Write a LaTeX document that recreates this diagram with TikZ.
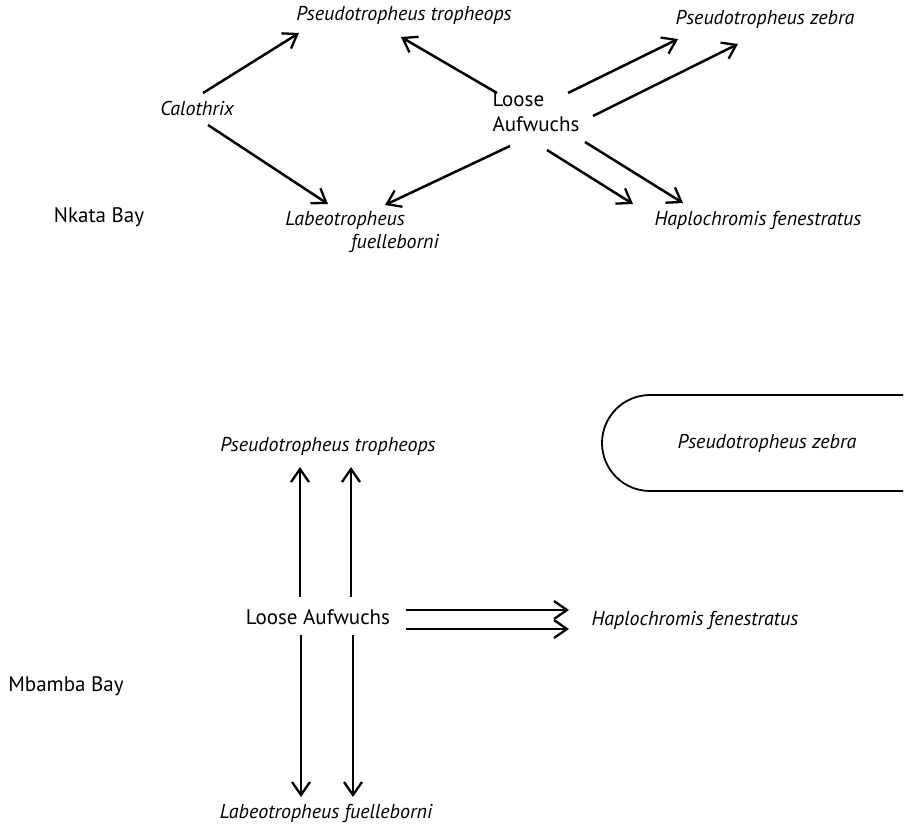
\documentclass[tikz,border=0pt]{standalone}
\usepackage{fontspec}
\setmainfont{PT Sans}
\usetikzlibrary{arrows.meta}
\tikzset{
  lbl/.style={inner sep=0pt, font=\fontsize{21}{25}\selectfont},
  sp/.style={lbl, font=\fontsize{20}{25}\selectfont\itshape},
  arr/.style={line width=2.5pt, -{Straight Barb[length=13pt,width=18pt,line width=2.3pt]}},
  frame/.style={line width=1.8pt}
}
\begin{document}
\begin{tikzpicture}[x=1pt,y=-1pt]
\useasboundingbox (0,0) rectangle (907,828);
% ---------- Nkata Bay ----------
\node[sp] (trop) at (404,15) {Pseudotropheus tropheops};
\node[sp] (zebra) at (765,19) {Pseudotropheus zebra};
\node[sp] (calo) at (197,108) {Calothrix};
\node[lbl, align=left] (loose) at (536,112) {Loose\\Aufwuchs};
\node[lbl] (nkata) at (99,217) {Nkata Bay};
\node[sp] (labeo) at (345,220) {Labeotropheus};
\node[sp] (labeob) at (395,243) {fuelleborni};
\node[sp] (haplo) at (758,220) {Haplochromis fenestratus};

\draw[arr] ([shift={(6,-15)}]calo.center) -- ([shift={(-105,18)}]trop.center);
\draw[arr] ([shift={(11,17)}]calo.center) -- ([shift={(-17,-16)}]labeo.center);
\draw[arr] ([shift={(-39,-19)}]loose.center) -- ([shift={(-3,22)}]trop.center);
\draw[arr] ([shift={(-26,34)}]loose.center) -- ([shift={(40,-15)}]labeo.center);
\draw[arr] ([shift={(32,-19)}]loose.center) -- ([shift={(-87,20)}]zebra.center);
\draw[arr] ([shift={(57,4)}]loose.center) -- ([shift={(-27,25)}]zebra.center);
\draw[arr] ([shift={(11,38)}]loose.center) -- ([shift={(-125,-16)}]haplo.center);
\draw[arr] ([shift={(49,30)}]loose.center) -- ([shift={(-75,-17)}]haplo.center);

% ---------- Mbamba Bay ----------
\node[sp] (tropB) at (328,446) {Pseudotropheus tropheops};
\node[sp] (zebraB) at (767,443) {Pseudotropheus zebra};
\node[lbl] (looseB) at (318,617) {Loose Aufwuchs};
\node[sp] (haploB) at (695,620) {Haplochromis fenestratus};
\node[lbl] (mbamba) at (66,686) {Mbamba Bay};
\node[sp] (labeoB) at (326,813) {Labeotropheus fuelleborni};

\draw[frame] (903,395) -- (650,395) arc[start angle=270, end angle=90, radius=48] -- (903,491);

\draw[arr] ([shift={(-18,-20)}]looseB.center) -- ([shift={(-28,21)}]tropB.center);
\draw[arr] ([shift={(33,-20)}]looseB.center) -- ([shift={(23,21)}]tropB.center);
\draw[arr] ([shift={(-17,18)}]looseB.center) -- ([shift={(-25,-16)}]labeoB.center);
\draw[arr] ([shift={(35,18)}]looseB.center) -- ([shift={(27,-16)}]labeoB.center);
\draw[arr] ([shift={(88,-7)}]looseB.center) -- ([shift={(-126,-10)}]haploB.center);
\draw[arr] ([shift={(88,12)}]looseB.center) -- ([shift={(-126,9)}]haploB.center);
\end{tikzpicture}
\end{document}
